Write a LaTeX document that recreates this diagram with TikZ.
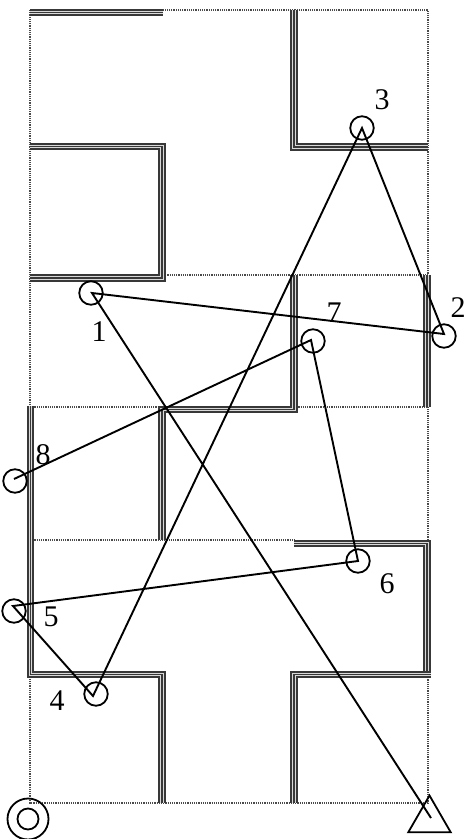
\documentclass[tikz,border=0pt]{standalone}
\usepackage{fontspec}
\setmainfont{Liberation Serif}
\usetikzlibrary{shapes.geometric}
\definecolor{wallgray}{HTML}{383838}
\definecolor{gridgray}{HTML}{4A4A4A}

\begin{document}
\begin{tikzpicture}[
  x=1pt, y=-1pt,
  every node/.style={font=\fontsize{30}{30}\selectfont},
  grid/.style={draw=gridgray, line width=1.2pt, dash pattern=on 1.2pt off 1pt},
  wall/.style={
    draw=wallgray, line width=7.6pt,
    postaction={draw=white!85!black, line width=3.9pt},
    postaction={draw=wallgray, line width=1.9pt},
  },
  stop/.style={draw=black, circle, line width=1.8pt, minimum size=23.5pt, inner sep=0pt, outer sep=0pt},
  lbl/.style={inner sep=0pt, outer sep=0pt},
  tour/.style={draw=black, line width=1.9pt, line join=miter},
]
  \useasboundingbox (0,0) rectangle (465,839);

  % dotted cells
  \draw[grid] (30,10) rectangle (428,803);
  \draw[grid] (163,275) -- (428,275);
  \draw[grid] (30,407) -- (428,407);
  \draw[grid] (30,540) -- (295,540);

  % walls
  \draw[wall] (30,12.5) -- (163,12.5);
  \draw[wall] (294,10) -- (294,147) -- (428,147);
  \draw[wall] (30,146.5) -- (162,146.5) -- (162,278) -- (30,278);
  \draw[wall] (294,275) -- (294,409.5) -- (162,409.5) -- (162,540);
  \draw[wall] (427,275) -- (427,407);
  \draw[wall] (30.5,406) -- (30.5,674.5) -- (162,674.5) -- (162,803);
  \draw[wall] (294,543.5) -- (427,543.5) -- (427,678);
  \draw[wall] (431,674.5) -- (294,674.5) -- (294,803);

  % stops
  \node[stop] (s1) at (91,293)  {};
  \node[stop] (s2) at (444,336) {};
  \node[stop] (s3) at (362,128) {};
  \node[stop] (s4) at (96,694)  {};
  \node[stop] (s5) at (14,611)  {};
  \node[stop] (s6) at (358,561) {};
  \node[stop] (s7) at (313,341) {};
  \node[stop] (s8) at (15,481)  {};

  \node[lbl] (l1) at (99,332)  {1};
  \node[lbl] (l2) at (458,308) {2};
  \node[lbl] (l3) at (382,100) {3};
  \node[lbl] (l4) at (57,701)  {4};
  \node[lbl] (l5) at (51,617)  {5};
  \node[lbl] (l6) at (387,584) {6};
  \node[lbl] (l7) at (334,313) {7};
  \node[lbl] (l8) at (43,455)  {8};

  % start and goal
  \node[stop, minimum size=41pt] (start) at (28,819) {};
  \node[stop, minimum size=21pt] (startin) at (28,819) {};
  \node[draw=black, line width=1.8pt, regular polygon, regular polygon sides=3,
    minimum size=49pt, inner sep=0pt, outer sep=0pt] (goal) at (429.5,820) {};

  % route
  \draw[tour] ([shift={(1.5,-2)}]goal.center) -- ([shift={(1,0)}]s1.center)
    -- ([shift={(0,-2)}]s2.center) -- (s3.center)
    -- ([shift={(-3,2)}]s4.center) -- ([shift={(-1,-5)}]s5.center)
    -- (s6.center) -- ([shift={(-2,-1)}]s7.center)
    -- ([shift={(-1,-2)}]s8.center);
\end{tikzpicture}
\end{document}
